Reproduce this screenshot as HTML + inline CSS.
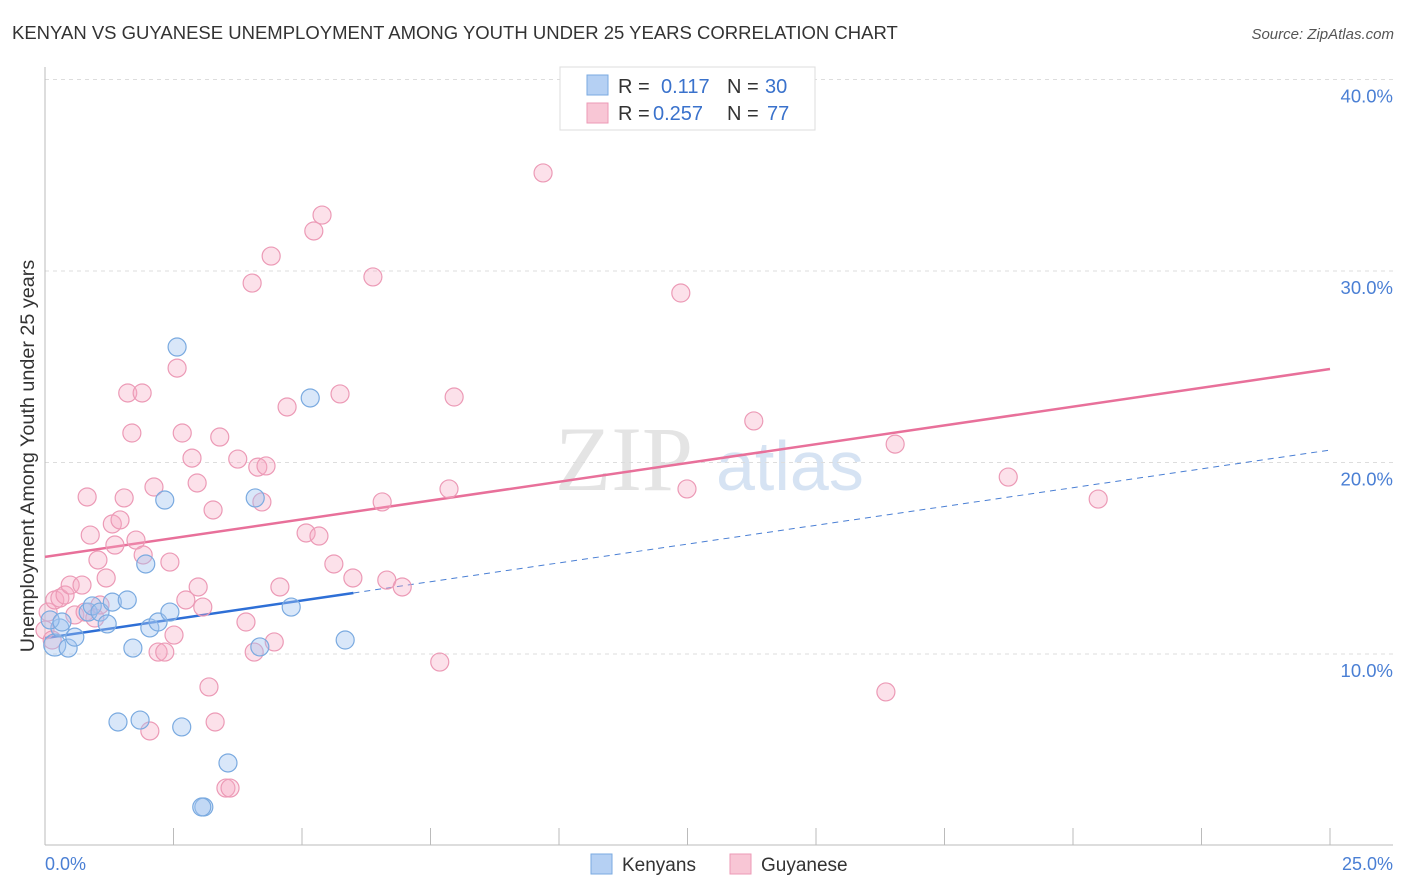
<!DOCTYPE html>
<html><head><meta charset="utf-8"><style>
body{margin:0;background:#fff;font-family:"Liberation Sans",sans-serif;}
svg{display:block}
</style></head><body>
<svg id="c" width="1406" height="892" xmlns="http://www.w3.org/2000/svg">
<text x="12" y="39" font-size="18.5" fill="#333">KENYAN VS GUYANESE UNEMPLOYMENT AMONG YOUTH UNDER 25 YEARS CORRELATION CHART</text>
<text x="1394" y="39" font-size="15" fill="#555" font-style="italic" text-anchor="end">Source: ZipAtlas.com</text>
<g><text x="555" y="490" font-size="92" fill="#e4e4e4" font-family="Liberation Serif,serif">ZIP</text><text x="716" y="490" font-size="70" fill="#d6e3f3">atlas</text></g>
<g id="grid"></g><g id="axes"></g><g id="lines"></g><g id="pts"></g>
<text transform="translate(34,456) rotate(-90)" font-size="19.8" fill="#333" text-anchor="middle">Unemployment Among Youth under 25 years</text>
<g>
<rect x="560" y="67" width="255" height="63" fill="#fff" stroke="#ddd"/>
<rect x="587" y="75" width="21" height="20" fill="#b5d0f3" stroke="#7aaae0"/>
<rect x="587" y="103" width="21" height="20" fill="#f8c6d5" stroke="#ec9ab6"/>
<text x="618" y="93" font-size="20" fill="#333">R =</text><text x="661" y="93" font-size="20" fill="#3a72cc">0.117</text>
<text x="727" y="93" font-size="20" fill="#333">N =</text><text x="765" y="93" font-size="20" fill="#3a72cc">30</text>
<text x="618" y="120" font-size="20" fill="#333">R =</text><text x="653" y="120" font-size="20" fill="#3a72cc">0.257</text>
<text x="727" y="120" font-size="20" fill="#333">N =</text><text x="767" y="120" font-size="20" fill="#3a72cc">77</text>
</g>
<g>
<rect x="591" y="854" width="21" height="20" fill="#b5d0f3" stroke="#7aaae0"/>
<text x="622" y="871" font-size="19" fill="#333">Kenyans</text>
<rect x="730" y="854" width="21" height="20" fill="#f8c6d5" stroke="#ec9ab6"/>
<text x="761" y="871" font-size="19" fill="#333">Guyanese</text>
</g>
<text x="45" y="870" font-size="18" fill="#4a7fd4">0.0%</text>
<text x="1393" y="870" font-size="18" fill="#4a7fd4" text-anchor="end">25.0%</text>
</svg>
<script>
const yTicks=[10,20,30,40];
const yTickLabels=["10.0%","20.0%","30.0%","40.0%"];
const kenX=[0.19,0.29,0.45,0.58,0.84,0.92,1.07,1.21,1.31,1.60,1.71,1.42,1.85,2.04,2.20,1.96,2.33,2.43,2.57,2.66,3.09,3.56,4.09,4.18,4.79,5.16,5.84,0.10,0.33,3.05];
const kenY=[10.47,11.36,10.31,10.88,12.19,12.51,12.19,11.57,12.71,12.82,10.31,6.45,6.55,11.36,11.67,14.70,18.04,12.19,26.03,6.19,2.01,4.31,18.15,10.37,12.45,23.37,10.73,11.78,11.67,2.01];
const guyX=[0.06,0.19,0.29,0.39,0.49,0.58,0.72,0.78,0.82,0.88,0.97,1.03,1.19,1.31,1.36,1.46,1.54,1.61,1.89,1.69,1.77,1.91,2.04,2.12,2.20,2.33,2.43,2.51,2.57,2.67,2.74,2.86,2.96,2.98,3.07,3.19,3.27,3.31,3.40,3.52,3.60,3.75,3.91,4.03,4.07,4.14,4.22,4.30,4.40,4.46,4.57,4.71,5.08,5.23,5.33,5.39,5.62,5.74,5.99,6.38,6.56,6.65,6.95,7.68,7.86,7.96,9.69,12.37,12.49,13.79,16.36,16.54,18.74,20.49,0.00,0.14,1.07];
const guyY=[12.19,12.82,12.92,13.08,13.60,12.04,13.60,12.19,18.20,16.21,11.88,14.91,13.97,16.79,15.69,17.00,18.15,23.63,23.63,21.54,15.95,15.17,5.98,18.72,10.10,10.10,14.80,10.99,24.93,21.54,12.82,20.23,18.93,13.50,12.45,8.28,17.52,6.45,21.33,3.00,3.00,20.18,11.67,29.37,10.10,19.76,17.94,19.82,30.78,10.63,13.50,22.90,16.32,32.09,16.16,32.92,14.70,23.58,13.97,29.69,17.94,13.86,13.50,9.58,18.62,23.42,35.12,28.85,18.62,22.17,8.02,20.96,19.24,18.09,11.25,10.73,12.56];
const kenTrend=[10.83,20.65]; const kenSolidEnd=6.0;
const guyTrend=[15.07,24.88];
const NS="http://www.w3.org/2000/svg";
const sx=v=>45+v*51.4, sy=v=>845.5-v*19.15;
function mk(t,a,p){const e=document.createElementNS(NS,t);for(const k in a)e.setAttribute(k,a[k]);p.appendChild(e);return e;}
const grid=document.getElementById('grid'),axes=document.getElementById('axes'),lines=document.getElementById('lines'),pts=document.getElementById('pts');
yTicks.forEach((t,i)=>{
 const l=mk('line',{x1:45,x2:1393,y1:sy(t),y2:sy(t),stroke:'#ddd','stroke-dasharray':'4,4'},grid);
 
 
 const tx=mk('text',{x:1393,y:sy(t)+23,'font-size':18.5,fill:'#4a7fd4','text-anchor':'end'},grid);
 tx.textContent=yTickLabels[i];
 
 
});
mk('line',{x1:45,x2:45,y1:67,y2:845,stroke:'#bbb'},axes);
mk('line',{x1:45,x2:1393,y1:845,y2:845,stroke:'#bbb'},axes);
for(let i=0;i<=10;i++){const t=mk('line',{x1:sx(i*2.5),x2:sx(i*2.5),y1:828,y2:845,stroke:'#bbb'},axes);
 
 }
function trend(tr,x0,x1,col,w,dash){const a=tr[0],b=tr[1];const f=x=>a+(b-a)*x/25;
 const l=mk('line',{x1:sx(x0),y1:sy(f(x0)),x2:sx(x1),y2:sy(f(x1)),stroke:col,'stroke-width':w},lines);
 if(dash)l.setAttribute('stroke-dasharray',dash);return l;}
let l1=trend(guyTrend,0,25,'#e8709a',2.5);


let l2=trend(kenTrend,0,kenSolidEnd,'#2e6fd6',2.5);


let l3=trend(kenTrend,kenSolidEnd,25,'#4a7fd4',1,'6,5');


guyX.forEach((x,i)=>{const c=mk('circle',{cx:sx(x),cy:sy(guyY[i]),r:9,fill:'rgba(245,170,195,0.35)',stroke:'#ec9ab6','stroke-width':1.2},pts);
 
 });
kenX.forEach((x,i)=>{const c=mk('circle',{cx:sx(x),cy:sy(kenY[i]),r:i===0?11:9,fill:'rgba(160,195,240,0.4)',stroke:'#7aaae0','stroke-width':1.2},pts);
 
 });
</script>
</body></html>
